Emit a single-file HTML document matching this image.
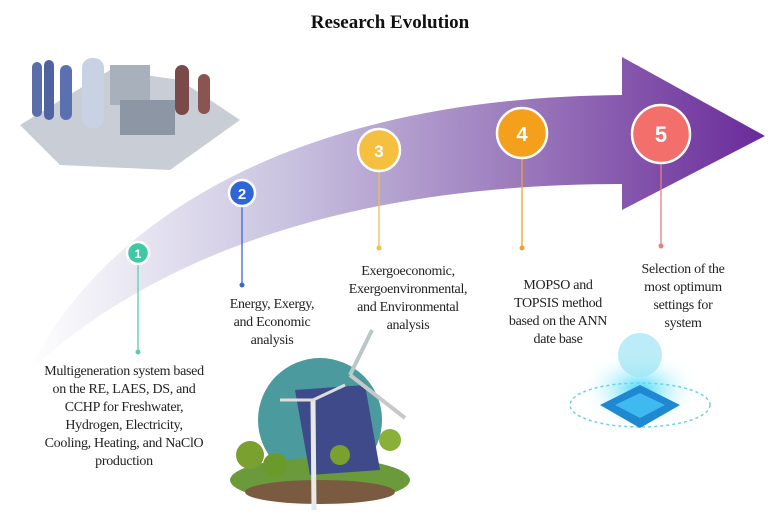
<!DOCTYPE html>
<html><head><style>
body{margin:0;background:#fff;width:780px;height:520px;overflow:hidden;font-family:"Liberation Serif",serif;}
</style></head><body>
<svg width="780" height="520" viewBox="0 0 780 520" xmlns="http://www.w3.org/2000/svg">
<defs>
<linearGradient id="g" x1="0" y1="0" x2="1" y2="0" gradientUnits="objectBoundingBox">
<stop offset="0" stop-color="#ffffff"/>
<stop offset="0.35" stop-color="#c9c3e0"/>
<stop offset="0.7" stop-color="#9672b8"/>
<stop offset="1" stop-color="#6a2a9a"/>
</linearGradient>
<radialGradient id="ai" cx="0.5" cy="0.5" r="0.5"><stop offset="0" stop-color="#40d8f8"/><stop offset="1" stop-color="#ffffff" stop-opacity="0"/></radialGradient>
</defs>
<text x="390" y="28" text-anchor="middle" font-size="19" font-weight="bold" fill="#111">Research Evolution</text>
<path d="M28,372 C90,245 260,98 622,95 L622,57 L765,136 L622,210 L622,184 C360,184 160,250 28,372 Z" fill="url(#g)"/>
<g>
<polygon points="20,125 110,70 180,80 240,120 170,170 60,165" fill="#c9ced6"/>
<rect x="32" y="62" width="10" height="55" rx="5" fill="#5b6ea8"/>
<rect x="44" y="60" width="10" height="60" rx="5" fill="#4e63a0"/>
<rect x="60" y="65" width="12" height="55" rx="6" fill="#5a70b0"/>
<rect x="82" y="58" width="22" height="70" rx="10" fill="#c8d2e2"/>
<rect x="110" y="65" width="40" height="40" fill="#a8b0bc"/>
<rect x="120" y="100" width="55" height="35" fill="#8c96a4"/>
<rect x="175" y="65" width="14" height="50" rx="7" fill="#7a4a48"/>
<rect x="198" y="74" width="12" height="40" rx="6" fill="#8a5450"/>
</g>
<g stroke-width="1.3">
<line x1="138" y1="253" x2="138" y2="352" stroke="#5ccdb4"/><circle cx="138" cy="352" r="2.5" fill="#5ccdb4"/>
<line x1="242" y1="193" x2="242" y2="285" stroke="#3a6ad0"/><circle cx="242" cy="285" r="2.5" fill="#3a6ad0"/>
<line x1="379" y1="150" x2="379" y2="248" stroke="#f2c050"/><circle cx="379" cy="248" r="2.5" fill="#f2c050"/>
<line x1="522" y1="133" x2="522" y2="248" stroke="#f0a030"/><circle cx="522" cy="248" r="2.5" fill="#f0a030"/>
<line x1="661" y1="134" x2="661" y2="246" stroke="#e88080"/><circle cx="661" cy="246" r="2.5" fill="#e88080"/>
</g>
<g stroke="#fff" stroke-width="2.5">
<circle cx="138" cy="253" r="11" fill="#40c8a6"/>
<circle cx="242" cy="193" r="13" fill="#2e66d8"/>
<circle cx="379" cy="150" r="21" fill="#f5c040"/>
<circle cx="522" cy="133" r="25" fill="#f5a01c"/>
<circle cx="661" cy="134" r="29" fill="#f26f6c"/>
</g>
<g fill="#fff" font-family="Liberation Sans,sans-serif" font-weight="bold" text-anchor="middle">
<text x="138" y="258" font-size="12">1</text>
<text x="242" y="199" font-size="15">2</text>
<text x="379" y="157" font-size="17">3</text>
<text x="522" y="141" font-size="20">4</text>
<text x="661" y="142" font-size="22">5</text>
</g>
<g font-size="14" fill="#222" text-anchor="middle" letter-spacing="-0.3">
<text x="124" y="375">Multigeneration system based</text>
<text x="124" y="393">on the RE, LAES, DS, and</text>
<text x="124" y="411">CCHP for Freshwater,</text>
<text x="124" y="429">Hydrogen, Electricity,</text>
<text x="124" y="447">Cooling, Heating, and NaClO</text>
<text x="124" y="465">production</text>
<text x="272" y="308">Energy, Exergy,</text>
<text x="272" y="326">and Economic</text>
<text x="272" y="344">analysis</text>
<text x="408" y="275">Exergoeconomic,</text>
<text x="408" y="293">Exergoenvironmental,</text>
<text x="408" y="311">and Environmental</text>
<text x="408" y="329">analysis</text>
<text x="558" y="289">MOPSO and</text>
<text x="558" y="307">TOPSIS method</text>
<text x="558" y="325">based on the ANN</text>
<text x="558" y="343">date base</text>
<text x="683" y="273">Selection of the</text>
<text x="683" y="291">most optimum</text>
<text x="683" y="309">settings for</text>
<text x="683" y="327">system</text>
</g>
<g>
<circle cx="320" cy="420" r="62" fill="#4a9a9e"/>
<ellipse cx="320" cy="480" rx="90" ry="22" fill="#6a9a3a"/>
<ellipse cx="320" cy="492" rx="75" ry="12" fill="#7a5a40"/>
<polygon points="295,390 365,385 380,470 310,475" fill="#3e4a8a"/>
<circle cx="250" cy="455" r="14" fill="#7aa030"/><circle cx="275" cy="465" r="12" fill="#6a9a2a"/>
<circle cx="390" cy="440" r="11" fill="#8ab03a"/><circle cx="340" cy="455" r="10" fill="#7aa030"/>
<line x1="313" y1="400" x2="314" y2="510" stroke="#e8e8e8" stroke-width="5"/>
<line x1="313" y1="400" x2="280" y2="400" stroke="#ddd" stroke-width="3"/>
<line x1="313" y1="400" x2="345" y2="385" stroke="#ddd" stroke-width="3"/>
<line x1="350" y1="375" x2="372" y2="330" stroke="#b8c8c8" stroke-width="4"/>
<line x1="350" y1="375" x2="405" y2="418" stroke="#c8c8c8" stroke-width="4"/>
</g>
<g>
<ellipse cx="640" cy="390" rx="60" ry="40" fill="url(#ai)"/>
<ellipse cx="640" cy="405" rx="70" ry="22" fill="none" stroke="#6ad0e8" stroke-width="1.5" stroke-dasharray="3 3"/>
<polygon points="600,405 640,385 680,405 640,428" fill="#1e88d0"/>
<polygon points="615,405 640,393 665,405 640,418" fill="#40b8f0"/>
<circle cx="640" cy="355" r="22" fill="#9ee4f4" opacity="0.7"/>
</g>
</svg>
</body></html>
